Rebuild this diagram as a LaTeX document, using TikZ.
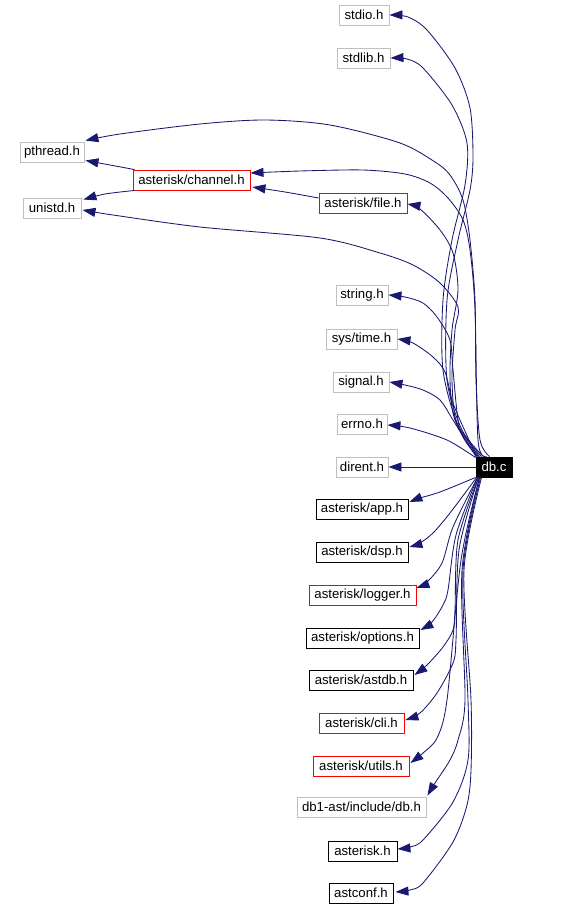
\documentclass[tikz,border=0pt]{standalone}
\usepackage{fontspec}
\setmainfont{Liberation Sans}
\usetikzlibrary{arrows.meta,calc}
\definecolor{edgecol}{HTML}{191970}
\definecolor{graycol}{HTML}{BFBFBF}
\begin{document}
\begin{tikzpicture}[x=1pt,y=-1pt,
  box/.style={draw,rectangle,line width=0.9pt,minimum height=20pt,inner sep=0pt,font=\fontsize{13.2}{15}\selectfont},
  gbox/.style={box,draw=graycol},
  rbox/.style={box,draw=red},
  kbox/.style={box,draw=black},
  edge/.style={draw=edgecol,line width=0.85pt,-{Triangle[length=13pt,width=9pt]}},
]
\useasboundingbox (0,0) rectangle (560,908);
% nodes
\node[gbox,minimum width=50pt] (stdio) at (364,15) {stdio.h};
\node[gbox,minimum width=53pt] (stdlib) at (363.5,58) {stdlib.h};
\node[gbox,minimum width=64pt] (pthread) at (52,152) {pthread.h};
\node[rbox,minimum width=117pt] (channel) at (191.5,180) {asterisk/channel.h};
\node[gbox,minimum width=58pt] (unistd) at (52,208) {unistd.h};
\node[rbox,minimum width=88pt] (file) at (363,203) {asterisk/file.h};
\node[gbox,minimum width=52pt] (string) at (362,295) {string.h};
\node[gbox,minimum width=71pt] (systime) at (361.5,339) {sys/time.h};
\node[gbox,minimum width=56pt] (signal) at (361,382) {signal.h};
\node[gbox,minimum width=50pt] (errno) at (362,424) {errno.h};
\node[gbox,minimum width=52pt] (dirent) at (362,467) {dirent.h};
\node[box,draw=black,fill=black,text=white,minimum width=36pt] (dbc) at (494,467) {db.c};
\node[kbox,minimum width=92pt] (app) at (362,509) {asterisk/app.h};
\node[kbox,minimum width=92pt] (dsp) at (362,552) {asterisk/dsp.h};
\node[rbox,minimum width=107pt] (logger) at (362.5,595) {asterisk/logger.h};
\node[kbox,minimum width=113pt] (options) at (362.5,638) {asterisk/options.h};
\node[kbox,minimum width=104pt] (astdb) at (361,680) {asterisk/astdb.h};
\node[rbox,minimum width=85pt] (cli) at (361.5,723) {asterisk/cli.h};
\node[rbox,minimum width=96pt] (utils) at (361,766) {asterisk/utils.h};
\node[gbox,minimum width=129pt] (db1) at (361.5,807) {db1-ast/include/db.h};
\node[kbox,minimum width=69pt] (asteriskh) at (362.5,851) {asterisk.h};
\node[kbox,minimum width=64pt] (astconf) at (361,893) {astconf.h};
% edges from db.c (upwards)
\draw[edge] plot[smooth,tension=0.5] coordinates {($(dbc.north west)+(8,0)$) (462,430) (447,380) (447,300) (458,240) (470,190) (473,157) (470,108) (455,68) (427,30) (408,17) (stdio.east)};
\draw[edge] plot[smooth,tension=0.5] coordinates {($(dbc.north west)+(6,0)$) (458,425) (443,370) (443,300) (452,240) (465,185) (467,143) (452,105) (423,68) (407,59) (stdlib.east)};
\draw[edge] plot[smooth,tension=0.5] coordinates {($(dbc.north west)+(14,0)$) (480,440) (476,380) (475,300) (470,240) (463,200) (450,175) (435,162) (400,143) (330,125) (265,120) (200,124) (120,134) ($(pthread.north east)+(1,-1)$)};
\draw[edge] plot[smooth,tension=0.5] coordinates {($(dbc.north west)+(11,0)$) (478,440) (475,310) (470,250) (463,220) (448,198) (430,183) (405,174) (363,170) (300,171) ($(channel.east)+(0,-7)$)};
\draw[edge] plot[smooth,tension=0.5] coordinates {($(dbc.north west)+(4,0)$) (455,420) (450,380) (452,330) (458,290) (453,253) (440,230) (420,209) ($(file.east)+(0,1)$)};
\draw[edge] plot[smooth,tension=0.5] coordinates {($(dbc.north west)+(3,0)$) (457,425) (452,380) (455,330) (458,307) (440,283) (413,265) (380,253) (320,238) (200,227) (113,215) ($(unistd.east)+(1,2)$)};
\draw[edge] plot[smooth,tension=0.5] coordinates {($(dbc.north west)+(2,0)$) (460,430) (453,370) (450,340) (437,317) (423,303) (405,297) (string.east)};
\draw[edge] plot[smooth,tension=0.5] coordinates {($(dbc.north west)+(1,0)$) (460,420) (452,400) (445,372) (433,357) (413,343) (systime.east)};
\draw[edge] plot[smooth,tension=0.5] coordinates {($(dbc.north west)+(1,1)$) (453,420) (440,400) (423,390) (405,385) (signal.east)};
\draw[edge] plot[smooth,tension=0.5] coordinates {($(dbc.north west)+(0,1)$) (447,440) (410,428) ($(errno.east)+(0,1)$)};
\draw[edge] (dbc.west) -- (dirent.east);
% edges from db.c (downwards)
\draw[edge] plot[smooth,tension=0.5] coordinates {($(dbc.south west)+(0,0)$) (440,492) (420,498) ($(app.east)+(1,-7)$)};
\draw[edge] plot[smooth,tension=0.5] coordinates {($(dbc.south west)+(1,0)$) (450,513) (433,533) (420,543) ($(dsp.east)+(1,-5)$)};
\draw[edge] plot[smooth,tension=0.5] coordinates {($(dbc.south west)+(2,0)$) (453,527) (442,563) (427,582) ($(logger.east)+(0,-7)$)};
\draw[edge] plot[smooth,tension=0.5] coordinates {($(dbc.south west)+(2,0)$) (456,535) (448,590) (443,605) (432,622) ($(options.east)+(1,-8)$)};
\draw[edge] plot[smooth,tension=0.5] coordinates {($(dbc.south west)+(3,0)$) (458,540) (455,610) (453,630) (443,647) (427,665) ($(astdb.east)+(1,-5)$)};
\draw[edge] plot[smooth,tension=0.5] coordinates {($(dbc.south west)+(3,0)$) (459,550) (456,640) (453,663) (437,693) (420,713) ($(cli.east)+(1,-3)$)};
\draw[edge] plot[smooth,tension=0.5] coordinates {($(dbc.south west)+(4,0)$) (461,560) (447,700) (437,738) (423,753) ($(utils.east)+(1,-3)$)};
\draw[edge] plot[smooth,tension=0.5] coordinates {($(dbc.south west)+(4,0)$) (462,570) (465,700) (458,740) (450,760) (435,783) ($(db1.north east)+(1,-1)$)};
\draw[edge] plot[smooth,tension=0.5] coordinates {($(dbc.south west)+(5,0)$) (463,570) (468,700) (468,760) (453,802) (423,840) (410,847) ($(asteriskh.east)+(0,-2)$)};
\draw[edge] plot[smooth,tension=0.5] coordinates {($(dbc.south west)+(6,0)$) (464,570) (471,700) (471,770) (467,805) (453,842) (423,883) (410,890) ($(astconf.east)+(2,-1)$)};
% edges between headers
\draw[edge] plot[smooth,tension=0.5] coordinates {($(channel.north west)+(2,0)$) (110,165) ($(pthread.south east)+(1,-2)$)};
\draw[edge] plot[smooth,tension=0.5] coordinates {($(channel.south west)+(2,0)$) (105,194) ($(unistd.north east)+(2,2)$)};
\draw[edge] plot[smooth,tension=0.5] coordinates {($(file.west)+(0,-5)$) (285,192) ($(channel.east)+(2,7)$)};
\end{tikzpicture}
\end{document}
